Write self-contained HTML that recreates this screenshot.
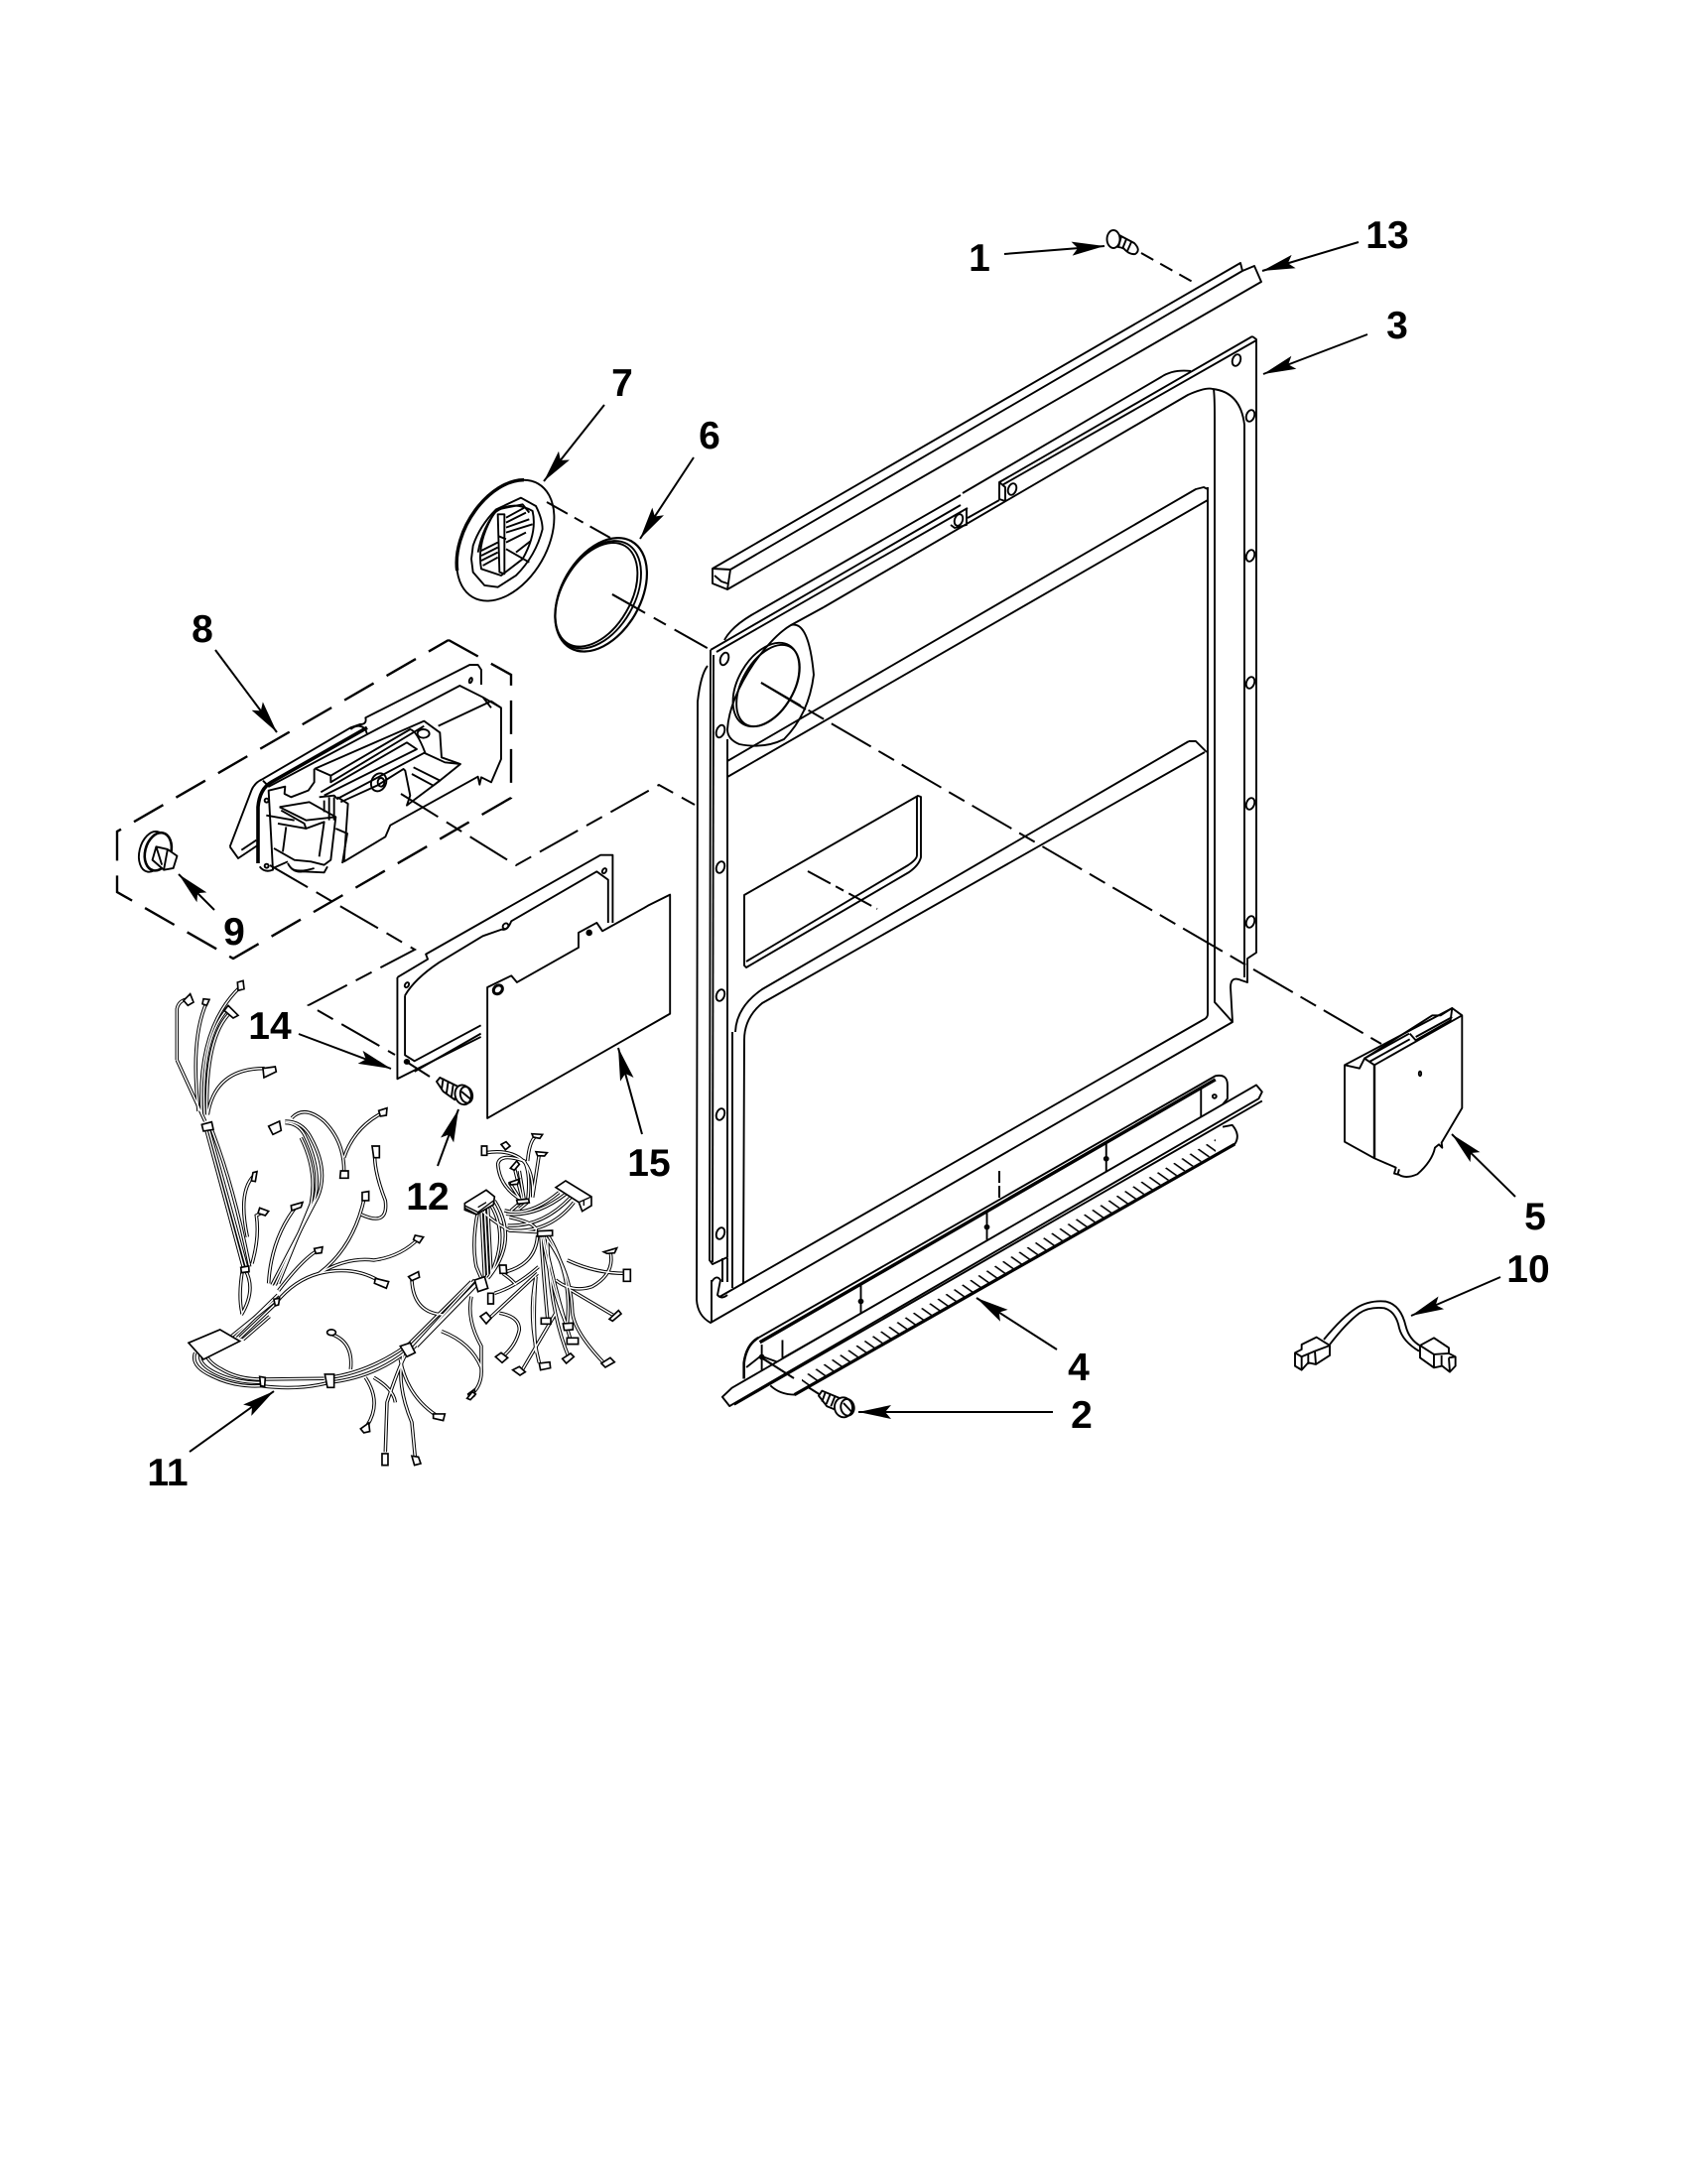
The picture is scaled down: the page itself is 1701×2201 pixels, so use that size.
<!DOCTYPE html>
<html><head><meta charset="utf-8"><style>
html,body{margin:0;padding:0;background:#fff}
svg{display:block}
text{font-family:"Liberation Sans",sans-serif;font-size:39px;font-weight:bold;fill:#000;text-anchor:middle}
.p{fill:none;stroke:#000;stroke-width:1.9;stroke-linejoin:round}
.p *{vector-effect:non-scaling-stroke}
.f{fill:#fff}
.d{fill:none;stroke:#000;stroke-width:2}
.wb{fill:none;stroke:#000;stroke-width:10.5}
.ww{fill:none;stroke:#fff;stroke-width:4.5}
.c{fill:#fff;stroke:#000;stroke-width:5}
</style></head><body>
<svg xmlns="http://www.w3.org/2000/svg" width="1701" height="2201" viewBox="0 0 1701 2201">
<defs>
<marker id="a" markerUnits="userSpaceOnUse" markerWidth="36" markerHeight="18" refX="33" refY="9" orient="auto"><path d="M0,2 L33,9 L0,16 L6,9 Z" fill="#000"/></marker>
<pattern id="h" patternUnits="userSpaceOnUse" width="8.6" height="8.6" patternTransform="rotate(35.5)"><rect width="8.6" height="1.6" fill="#000"/></pattern>
<g id="w1">
<path d="M85,265 L85,110 Q90,85 118,80"/><path d="M85,265 L170,450"/>
<path d="M150,420 Q125,200 175,90"/><path d="M160,430 Q145,170 275,45"/><path d="M168,430 Q155,200 240,108"/><path d="M176,430 Q170,190 250,118"/><path d="M178,430 Q200,290 350,290"/>
<path d="M172,470 L288,900"/><path d="M180,470 L298,900"/><path d="M188,470 Q255,640 305,890"/>
<path d="M292,900 Q325,960 280,1035"/><path d="M283,900 Q270,980 282,1030"/>
<path d="M298,800 Q268,660 320,612"/><path d="M312,880 Q335,800 325,735 L350,722"/>
<path d="M362,940 Q370,800 450,702"/>
<path d="M372,945 L510,680 Q545,600 490,500 Q465,450 412,450"/><path d="M382,945 L500,690 Q525,600 470,490 Q450,455 412,455"/><path d="M392,940 L490,700 Q510,600 460,500"/>
<path d="M392,962 Q470,860 515,838"/>
<path d="M432,440 Q470,400 530,450 Q590,510 590,600"/><path d="M590,560 Q620,470 705,425"/>
<path d="M683,545 Q680,600 715,690 Q725,770 642,732"/>
<path d="M515,910 Q620,830 652,680"/><path d="M515,910 Q600,860 680,870 Q760,860 815,805"/><path d="M515,910 Q620,885 700,935"/>
<path d="M385,998 Q440,930 515,910"/>
<path d="M250,1100 L385,990"/><path d="M262,1100 L390,975"/><path d="M275,1105 L385,1000"/><path d="M285,1110 L365,1040"/>
<path d="M140,1150 Q125,1190 190,1220 Q260,1255 340,1250"/><path d="M155,1155 Q150,1185 200,1210 Q260,1240 340,1240"/><path d="M170,1150 Q180,1180 220,1200 Q270,1230 340,1230"/><path d="M340,1250 Q450,1265 545,1240"/><path d="M340,1230 L530,1228"/>
<path d="M545,1240 Q680,1225 780,1145"/><path d="M545,1225 Q660,1210 770,1135"/>
<path d="M790,1145 L985,930"/><path d="M800,1135 L995,935"/><path d="M810,1130 L1005,930"/><path d="M780,1130 L975,935"/>
<path d="M780,1150 Q760,1180 720,1300 L715,1450"/><path d="M770,1150 Q745,1240 795,1360 L805,1465"/><path d="M760,1170 Q780,1280 870,1340"/><path d="M655,1225 Q705,1300 660,1370"/><path d="M680,1225 Q740,1260 745,1300"/>
<path d="M540,1090 Q620,1110 610,1200"/>
<path d="M885,1085 Q975,1120 1005,1195 Q1010,1250 970,1280"/><path d="M975,980 Q960,1050 1005,1130 L1005,1195"/>
<path d="M795,930 Q800,1030 890,1035"/>
</g>
<g id="w2">
<path d="M65,300 Q45,400 60,470 L75,505"/><path d="M75,300 L85,500"/><path d="M85,295 L95,495"/><path d="M95,290 L105,490"/><path d="M105,285 Q160,380 100,500"/><path d="M115,270 Q190,390 95,505"/>
<path d="M75,300 Q120,340 160,360 L245,365"/><path d="M145,300 Q220,320 310,245"/><path d="M150,310 Q240,320 330,250"/><path d="M155,345 Q260,350 345,260"/><path d="M160,360 Q280,370 355,275"/><path d="M160,320 Q250,340 240,365"/>
<path d="M200,270 Q130,230 125,160 Q130,125 205,150 Q225,190 215,270"/><path d="M90,125 Q150,115 190,140 Q235,170 230,260"/><path d="M215,150 Q220,90 240,75"/><path d="M230,260 L250,130"/><path d="M200,270 L175,170"/><path d="M205,270 L190,180"/><path d="M195,270 L160,215"/><path d="M165,300 L200,270"/><path d="M190,295 L215,275"/>
<path d="M245,375 Q240,460 150,485"/><path d="M248,470 Q180,530 115,550"/><path d="M245,490 L95,630"/><path d="M240,500 Q215,620 250,760"/><path d="M240,500 Q230,620 240,730"/><path d="M300,610 L200,780"/>
<path d="M255,380 Q265,520 275,625"/><path d="M260,380 Q290,550 335,650"/><path d="M265,380 Q300,550 345,690"/><path d="M270,380 Q345,480 350,600 Q350,660 445,760"/><path d="M280,380 Q350,500 335,640"/><path d="M275,385 Q280,600 340,745"/>
<path d="M335,450 Q420,490 510,490"/><path d="M300,510 Q350,550 410,530 Q480,490 465,425"/><path d="M345,540 L480,620"/><path d="M140,490 Q170,510 180,525"/>
<path d="M130,610 Q190,620 190,660 Q180,710 135,745"/>
</g>
</defs>

<!-- dashed leaders -->
<g class="d">
<path d="M1150,255 L1207,287" stroke-dasharray="14 8"/>
<path d="M551,506 L615,542" stroke-dasharray="24 8 10 8"/>
<path d="M617,599 L716,655" stroke-dasharray="38 10 14 10"/>
<path d="M767,688 L1392,1052" stroke-dasharray="46 9 18 9"/>
<path d="M814,878 L884,916" stroke-dasharray="26 6 9 6"/>
<path d="M1007,1180 L1007,1207" stroke-dasharray="12 3"/>
<path d="M404,800 L520,872 L664,791 L700,811" stroke-dasharray="44 10 18 10"/>
<path d="M272,872 L418,957 L311,1013 L398,1063" stroke-dasharray="44 10 18 10"/>
<path d="M408,1069 L433,1085" stroke-width="2"/>
<path d="M767,1368 L827,1406"/>
<path d="M452,645 L515,680 L515,804 L235,966 L118,899 L118,838 L452,645" stroke-dasharray="34 15" stroke-width="2.4"/>
</g>

<!-- strip 13 -->
<g class="p">
<path d="M718,573 L1250,265 L1252,273 L1264,268 L1271,284 L733,594 L718,588 Z"/>
<path d="M1252,273 L736,574 L733,594"/><path d="M718,573 L736,574"/><path d="M720,580 L727,586 L733,588"/>
</g>

<!-- door outline and flange lines -->
<g class="p">
<path d="M1262,339 L1266,342 L1266,960 L1257,966 L1257,990 L1251,988 Q1240,983 1240,995 L1242,1030 L716,1333 Q703,1326 702,1310 L703,707 Q706,680 713,671"/>
<path d="M1262,339 L1007,486"/><path d="M968,509 L716,655"/>
<path d="M1266,343 L1008,490"/><path d="M975,512 L722,657"/>
<path d="M1200,374 Q1182,372 1170,380 L970,497"/><path d="M968,499 L757,620 Q737,632 730,645"/>
<path d="M830,612 L1197,398 Q1215,390 1222,392 Q1250,395 1254,428 L1254,960 L1254,985"/>
<path d="M797,630 L830,612"/>
<path d="M975,522 L1007,504"/>
<path class="f" d="M1007,486 L1007,503 L1013,505 L1013,491 Z"/>
<path d="M974,512 L974,529 L962,532 L958,529"/>
<path d="M1223,392 Q1224,400 1224,420 L1224,1010 Q1235,1022 1242,1030"/>
<path d="M1217,491 L1217,1022 Q1217,1026 1212,1028 L725,1307"/>
<path d="M716,655 L715,1270 L718,1274 L733,1267 L733,745"/>
<path d="M719,660 L718,1272"/>
<path d="M738,1040 L738,1298"/>
<path d="M733,767 L1205,493 L1213,491 L1217,493"/><path d="M733,783 L1217,504"/>
<path d="M1198,747 L1205,747 L1216,758 M1198,747 L768,997 Q742,1015 741,1040"/>
<path d="M1214,758 L768,1011 Q750,1026 750,1048 L749,1293"/>
<path d="M717,1290 L717,1333"/><path d="M717,1292 Q722,1284 726,1290 L723,1305 Q727,1310 733,1305"/>
<path d="M728,1268 L728,1292 M733,1268 L733,1292"/>
<!-- vent -->
<path d="M750,902 L925,802 L928,803 L928,864 Q926,872 916,879 L752,975 L750,973 Z"/>
<path d="M752,969 L915,872 Q924,866 924,862 L924,803"/>
</g>
<g class="p">
<path d="M733,735 Q735,705 760,668 Q780,640 797,630 Q815,625 820,680 Q815,720 790,745 Q770,755 745,750 Q733,745 733,735 Z"/>
<ellipse cx="772" cy="690" rx="28" ry="46" transform="rotate(30 772 690)"/>
<ellipse cx="774" cy="691" rx="26" ry="45" transform="rotate(30 774 691)"/>
</g>
<path d="M767,688 L812,715" class="d"/>
<g class="p">
<ellipse cx="730" cy="664" rx="4" ry="6.5" transform="rotate(20 730 664)"/><ellipse cx="726" cy="737" rx="4" ry="6.5" transform="rotate(20 726 737)"/>
<ellipse cx="726" cy="874" rx="4" ry="6" transform="rotate(20 726 874)"/><ellipse cx="726" cy="1003" rx="4" ry="6" transform="rotate(20 726 1003)"/><ellipse cx="726" cy="1123" rx="4" ry="6" transform="rotate(20 726 1123)"/><ellipse cx="726" cy="1243" rx="4" ry="6" transform="rotate(20 726 1243)"/>
<ellipse cx="1260" cy="419" rx="4" ry="6" transform="rotate(20 1260 419)"/><ellipse cx="1260" cy="560" rx="4" ry="6" transform="rotate(20 1260 560)"/><ellipse cx="1260" cy="688" rx="4" ry="6" transform="rotate(20 1260 688)"/><ellipse cx="1260" cy="810" rx="4" ry="6" transform="rotate(20 1260 810)"/><ellipse cx="1260" cy="929" rx="4" ry="6" transform="rotate(20 1260 929)"/>
<ellipse cx="1246" cy="363" rx="4" ry="6" transform="rotate(20 1246 363)"/>
<ellipse cx="1020" cy="493" rx="4" ry="6" transform="rotate(20 1020 493)"/><ellipse cx="966" cy="524" rx="4" ry="6" transform="rotate(20 966 524)"/>
</g>

<!-- bottom trim, brush and rod -->
<g class="p" transform="translate(660,740) scale(.4848,.459)">
<path d="M185,1415 L185,1380 Q190,1340 215,1325" stroke-width="2.6"/>
<path d="M215,1325 L1165,750 Q1190,745 1190,770 L1190,800 L1135,870"/>
<path d="M218,1335 L1165,758" stroke-width="3.4"/>
<path d="M190,1390 L220,1365 L285,1390 L285,1405"/><path d="M265,1370 L1135,845"/><path d="M265,1330 L265,1370"/>
<path d="M428,1205 L428,1270"/><path d="M690,1045 L690,1110"/><path d="M938,895 L938,960"/><path d="M1135,775 L1135,870"/><path d="M222,1340 L222,1410"/>
<circle cx="428" cy="1245" r="4"/><circle cx="690" cy="1082" r="4"/><circle cx="938" cy="932" r="4"/><circle cx="1163" cy="795" r="4"/><circle cx="222" cy="1367" r="4"/>
<path class="f" stroke="none" d="M240,1430 Q260,1450 290,1450 L1205,900 Q1218,880 1200,858 L1180,860 L285,1400 Z"/>
<path d="M240,1430 Q260,1450 290,1450 L1205,900 Q1218,880 1200,858 L1180,862"/>
<path class="f" d="M140,1455 L160,1435 L1250,770 L1262,785 L1255,800 L155,1475 Z"/>
<path d="M165,1472 L1262,805"/>
<path d="M290,1450 L1205,900" stroke-width="3.2"/>
</g>
<path d="M808,1388 L1225,1148 L1225,1162 L808,1401 Z" fill="url(#h)"/>
<path d="M767,1368 L800,1389" class="d"/>

<!-- screw 1 -->
<g class="p">
<path class="f" d="M1126,236 L1143,245 Q1150,252 1144,256 Q1138,257 1132,250 L1122,248 Z"/>
<ellipse class="f" cx="1122" cy="241" rx="6.5" ry="9"/>
<path d="M1130,238 L1127,249 M1135,241 L1131,251 M1140,244 L1136,253"/>
</g>
<!-- screw 2 -->
<g class="p" transform="translate(700,1060) scale(.3333)">
<path class="f" d="M375,1040 L385,1025 L440,1048 L425,1082 L400,1072 Z"/>
<path d="M395,1030 L385,1058 M410,1035 L398,1065 M424,1042 L412,1072"/>
<ellipse class="f" cx="450" cy="1075" rx="27" ry="30" transform="rotate(-10 450 1075)"/><ellipse cx="462" cy="1075" rx="20" ry="25" transform="rotate(-10 462 1075)"/><path d="M450,1062 L478,1092"/>
</g>

<!-- parts 7 and 6 -->
<g class="p" transform="translate(430,360) scale(.3333)">
<ellipse cx="238" cy="554" rx="126" ry="198" transform="rotate(30 238 554)"/>
<path d="M92,645 A126,198 30 0 1 294,371" stroke-width="3.4"/>
<path d="M135,610 L140,570 Q160,510 210,460 L285,425 L330,450 Q350,490 350,520 Q330,600 270,660 L215,695 L175,690 L140,650 Z"/>
<path d="M165,640 Q150,560 205,470 Q260,430 320,465 Q335,530 290,610 L225,660 Z"/>
<path d="M155,590 Q170,510 215,460 L290,445 L310,470"/>
<path d="M215,475 L235,475 L235,655 L220,650 Z M215,540 L240,550"/>
<path d="M165,600 L215,575 M165,615 L215,590 M170,630 L215,605 M165,585 L215,560 M240,500 L300,470 M240,515 L310,490 M240,530 L320,505 M240,485 L295,455"/>
<path d="M240,560 L300,530 M240,580 L310,620 M270,590 L315,555"/>
<ellipse cx="527" cy="718" rx="119" ry="186" transform="rotate(30 527 718)" stroke-width="2.2"/>
<ellipse cx="518" cy="718" rx="110" ry="177" transform="rotate(30 518 718)"/>
<ellipse cx="513" cy="718" rx="104" ry="171" transform="rotate(30 513 718)"/>
</g>
<path d="M617,599 L640,612" class="d"/>

<!-- part 8 -->
<g class="p" transform="translate(180,680) scale(.3333)">
<path d="M155,520 L220,350 Q230,325 255,315 L520,160 L548,150 Q570,150 565,130 L880,-30 L905,-30 L915,-15 L915,30"/>
<path d="M155,520 L180,555 L240,515 M190,530 L235,500"/>
<path d="M240,570 L240,400 Q245,345 280,325 L570,160" stroke-width="3.6"/>
<path d="M255,320 L273,338 L580,175 L850,33 L920,68 L975,100 L975,255 L945,325 L915,310 L910,332 L905,308 L640,455 L625,490 L500,565 L512,390 L480,370"/>
<path d="M520,165 Q545,145 565,165 L570,180"/>
<path d="M785,155 L945,80 L975,100 M920,68 L945,100"/>
<path d="M245,580 Q260,600 285,590 L272,350 L322,338 L320,360 L340,370 L392,350 L410,325 L410,285"/>
<path d="M410,285 L742,140 L790,175 L795,250 L852,270 L790,320 L690,395 L700,365 L685,290 L680,285 L600,335 L490,385"/>
<path d="M415,285 L460,305 L460,325 L742,155"/><path d="M460,305 L700,165 Q720,170 745,235 L480,375 L470,365 L425,370"/>
<path d="M430,355 L690,205 L720,225 L440,365"/>
<ellipse cx="740" cy="178" rx="18" ry="13"/>
<ellipse cx="605" cy="325" rx="22" ry="28" transform="rotate(25 605 325)"/><ellipse cx="612" cy="325" rx="10" ry="13"/>
<path d="M710,280 L790,320 M705,300 L770,335 L790,320"/><path d="M740,235 L805,265 L850,270"/>
<path d="M305,400 L395,385 L475,430 L460,560 L440,575 L400,565 L350,560 L288,525"/>
<path d="M305,400 L385,440 L475,430 M310,410 L380,450 L385,465 L440,445 L425,550"/>
<path d="M265,425 L350,440 M300,450 L385,465 M325,460 L315,535"/>
<path d="M455,370 L455,440 M470,370 L470,440 M440,380 L440,415"/>
<path d="M475,465 L510,480 L495,570"/>
<path d="M330,570 Q345,600 375,595 L440,598 L450,580"/><path d="M340,585 Q360,600 410,585"/>
<circle cx="266" cy="380" r="6"/><circle cx="266" cy="578" r="6"/><ellipse cx="883" cy="17" rx="4" ry="8" transform="rotate(20 883 17)"/>
<path d="M285,585 L330,565"/>
</g>

<!-- knob 9 -->
<g class="p" transform="translate(100,600) scale(.3827,.3333)">
<ellipse class="f" cx="140" cy="775" rx="34" ry="62" transform="rotate(12 140 775)"/>
<ellipse class="f" cx="155" cy="775" rx="34" ry="58" transform="rotate(12 155 775)" stroke-width="2.6"/>
<path class="f" d="M150,760 L180,768 L205,788 L195,825 L170,830 L140,800 Z"/>
<path d="M150,760 L165,815 M180,768 L170,830"/>
</g>

<!-- panels 14, 15 -->
<g class="p" transform="translate(100,600) scale(.3827,.3333)">
<path d="M785,1155 L865,1100 L860,1085 L1320,785 L1352,785 L1352,990"/>
<path d="M785,1155 L785,1462 L1005,1335"/>
<path d="M805,1210 L805,1390 L830,1408 L1005,1300"/>
<path d="M805,1210 Q830,1160 895,1110 L1010,1030 L1060,1010 Q1075,1015 1085,985 L1310,835 L1340,860 L1340,990"/>
<path d="M830,1440 L1005,1325"/>
<ellipse cx="810" cy="1178" rx="5" ry="8" transform="rotate(25 810 1178)"/><ellipse cx="1330" cy="833" rx="5" ry="8" transform="rotate(25 1330 833)"/><ellipse cx="1070" cy="1000" rx="7" ry="9" transform="rotate(25 1070 1000)"/><circle cx="810" cy="1410" r="6" fill="#000"/>
<path class="f" d="M1022,1185 L1085,1150 L1100,1170 L1262,1065 L1262,1020 L1310,990 L1325,1015 L1435,945 L1445,938 L1503,905 L1503,1265 L1022,1581 Z"/>
<ellipse cx="1050" cy="1192" rx="11" ry="14" transform="rotate(30 1050 1192)" stroke-width="3"/>
<ellipse cx="1290" cy="1020" rx="6" ry="7" fill="#000"/>
</g>

<!-- screw 12 -->
<g class="p" transform="translate(150,980) scale(.3333)">
<path class="f" d="M870,330 L880,318 L935,345 L925,385 L890,360 Z"/>
<path d="M890,320 L885,355 M905,330 L900,365 M920,340 L915,375"/>
<ellipse class="f" cx="950" cy="370" rx="24" ry="30" transform="rotate(-15 950 370)"/><ellipse cx="960" cy="370" rx="18" ry="25" transform="rotate(-15 960 370)"/><path d="M945,360 L975,385"/>
</g>

<!-- harness -->
<g transform="translate(150,980) scale(.3333)">
<use href="#w1" class="wb"/>
<use href="#w1" class="ww"/>
<path class="c" d="M120,1120 L215,1080 L275,1115 L165,1170 Z"/>
<path class="c" d="M160,460 L190,452 L195,475 L165,480 Z M278,892 L302,888 L303,905 L280,908 Z M378,988 L395,985 L392,1005 L382,1008 Z M335,1222 L352,1225 L350,1252 L338,1250 Z M532,1215 L560,1215 L560,1255 L540,1255 Z M760,1130 L790,1120 L805,1150 L780,1162 Z"/>
<path class="c" d="M105,85 L125,65 L135,90 L118,100 Z M268,30 L285,25 L288,50 L270,55 Z M165,80 L183,82 L175,100 L162,95 Z M240,100 L270,130 L255,138 L228,115 Z M345,290 L382,285 L385,300 L348,318 Z M695,418 L720,410 L718,432 L700,435 Z M580,600 L603,600 L603,622 L578,622 Z M675,525 L697,525 L697,560 L680,560 Z M362,465 L395,450 L400,478 L375,490 Z M645,665 L665,662 L665,690 L645,690 Z M805,795 L830,800 L818,818 L800,808 Z M685,925 L725,935 L718,955 L682,940 Z M785,920 L815,905 L818,922 L795,932 Z M315,605 L327,602 L322,632 L310,630 Z M335,712 L362,722 L352,735 L330,728 Z M430,705 L465,695 L460,710 L432,720 Z M500,835 L525,830 L522,848 L505,850 Z"/>
<path class="c" d="M540,1085 A12,8 0 1 1 564,1092 A12,8 0 1 1 540,1085 Z M860,1335 L895,1335 L890,1355 L860,1348 Z M640,1380 L665,1362 L668,1388 L650,1392 Z M705,1455 L723,1455 L723,1490 L705,1490 Z M795,1462 L815,1465 L822,1485 L803,1490 Z M965,1275 L985,1260 L985,1280 L972,1290 Z"/>
</g>
<g transform="translate(460,1120) scale(.3333)">
<use href="#w2" class="wb"/>
<use href="#w2" class="ww"/>
<path class="c" d="M55,510 L85,500 L95,535 L65,545 Z M245,362 L290,360 L290,376 L245,378 Z M182,268 L218,265 L220,276 L185,280 Z"/>
<path class="c" d="M25,278 L90,238 L115,258 L112,282 L60,312 L25,298 Z"/>
<path d="M25,285 L65,305 L112,270 M25,292 L62,312 M65,290 L90,275" fill="none" stroke="#000" stroke-width="4"/>
<path class="c" d="M300,230 L330,210 L408,258 L408,285 L380,302 L370,275 Z"/>
<path d="M300,230 L370,275 L408,258 M385,270 L385,285" fill="none" stroke="#000" stroke-width="4"/>
<path class="c" d="M76,105 L92,105 L92,133 L76,133 Z M135,100 L150,92 L162,105 L148,116 Z M228,68 L260,70 L252,82 L232,78 Z M240,122 L274,125 L266,135 L245,134 Z M160,215 L190,205 L185,220 L165,222 Z M163,172 L182,150 L190,160 L175,178 Z M130,465 L150,465 L152,490 L132,490 Z M95,550 L112,550 L112,582 L95,582 Z M72,620 L90,608 L105,625 L90,642 Z M118,742 L135,730 L155,745 L138,760 Z M170,782 L190,772 L208,788 L192,798 Z M250,762 L282,758 L284,776 L254,782 Z M256,625 L285,625 L285,643 L256,643 Z M322,642 L352,640 L352,660 L326,662 Z M334,685 L368,685 L368,704 L334,704 Z M320,748 L345,732 L355,742 L332,762 Z M438,762 L465,745 L478,758 L450,774 Z M462,628 L490,602 L498,612 L472,634 Z M505,478 L526,478 L526,514 L505,514 Z M445,425 L485,413 L478,428 L455,430 Z"/>
<path class="c" d="M32,868 L48,848 L58,855 L42,872 Z"/>
</g>

<!-- part 5 -->
<g class="p" transform="translate(1260,960) scale(.3333)">
<path class="f" d="M285,340 L285,572 L375,622 L440,650 L435,668 L450,672 Q470,685 505,670 Q550,630 558,590 L570,580 L580,590 L578,575 L640,470 L640,190 L610,168 L285,340 Z"/>
<path d="M375,340 L375,622" stroke-width="2.4"/><path d="M375,340 L640,190"/><path d="M285,340 L330,350 L345,320 L375,340"/>
<path d="M345,320 L550,190 L575,190 L610,168 L605,205 L500,265 L482,245"/><path d="M360,330 L482,262 M480,245 L345,320"/><path d="M500,255 L610,195"/>
<ellipse cx="513" cy="366" rx="3.5" ry="7"/><path d="M450,655 L445,672"/>
</g>
<!-- part 10 -->
<g class="p" transform="translate(1260,960) scale(.3333)">
<path d="M222,1170 Q280,1100 320,1075 Q360,1050 410,1055 Q455,1065 470,1130 Q480,1170 515,1190"/>
<path d="M240,1185 Q290,1120 330,1090 Q360,1070 405,1075 Q440,1085 450,1135 Q460,1175 510,1205"/>
<path class="f" d="M135,1210 L155,1200 L155,1185 L200,1163 L240,1188 L240,1218 L198,1245 L175,1240 L155,1262 L135,1250 Z"/>
<path d="M135,1210 L155,1222 L155,1262 M155,1222 L195,1205 L240,1188 M195,1205 L198,1245 M175,1212 L175,1245"/>
<path class="f" d="M513,1188 L555,1165 L600,1195 L600,1212 L620,1222 L620,1250 L603,1268 L580,1250 L555,1255 L513,1225 Z"/>
<path d="M513,1188 L555,1215 L555,1255 M555,1215 L600,1212 M600,1225 L620,1222 M600,1225 L603,1268 M578,1218 L578,1250"/>
</g>

<!-- arrows -->
<g fill="none" stroke="#000" stroke-width="2">
<path d="M1012,256 L1113,248" marker-end="url(#a)"/>
<path d="M1369,244 L1272,273" marker-end="url(#a)"/>
<path d="M1378,337 L1273,377" marker-end="url(#a)"/>
<path d="M609,408 L548,485" marker-end="url(#a)"/>
<path d="M699,461 L645,543" marker-end="url(#a)"/>
<path d="M217,655 L279,738" marker-end="url(#a)"/>
<path d="M216,917 L180,881" marker-end="url(#a)"/>
<path d="M301,1042 L394,1077" marker-end="url(#a)"/>
<path d="M647,1143 L623,1056" marker-end="url(#a)"/>
<path d="M441,1175 L462,1118" marker-end="url(#a)"/>
<path d="M191,1463 L276,1402" marker-end="url(#a)"/>
<path d="M1527,1206 L1463,1143" marker-end="url(#a)"/>
<path d="M1512,1287 L1422,1326" marker-end="url(#a)"/>
<path d="M1065,1360 L984,1308" marker-end="url(#a)"/>
<path d="M1061,1423 L865,1423" marker-end="url(#a)"/>
</g>

<!-- labels -->
<text x="987" y="273">1</text>
<text x="1398" y="250">13</text>
<text x="1408" y="341">3</text>
<text x="627" y="399">7</text>
<text x="715" y="452">6</text>
<text x="204" y="647">8</text>
<text x="236" y="952">9</text>
<text x="272" y="1047">14</text>
<text x="431" y="1219">12</text>
<text x="654" y="1185">15</text>
<text x="1547" y="1239">5</text>
<text x="1540" y="1292">10</text>
<text x="1087" y="1391">4</text>
<text x="1090" y="1439">2</text>
<text x="169" y="1497">11</text>
</svg>
</body></html>
